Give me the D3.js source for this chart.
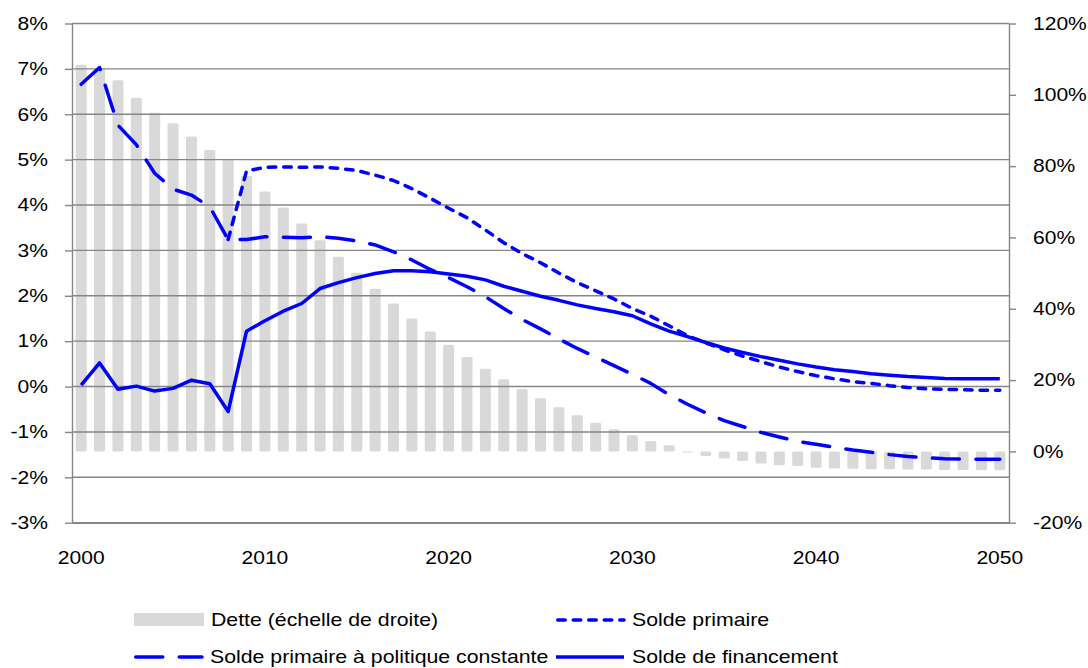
<!DOCTYPE html>
<html lang="fr">
<head>
  <meta charset="UTF-8" />
  <title>Solde et dette</title>
  <script src="https://d3js.org/d3.v7.min.js"></script>
  <style>
    body { margin: 0; padding: 0; background: #fff; }
    svg { display: block; font-family: "Liberation Sans", Arial, sans-serif; }
  </style>
</head>
<body>
  <svg id="chart" width="1088" height="668"></svg>
  <script>
    // years 2000..2050, one bar / point per year
    const years = d3.range(2000, 2051);
    const xTickYears = [2000, 2010, 2020, 2030, 2040, 2050];
    const leftTicks = [8, 7, 6, 5, 4, 3, 2, 1, 0, -1, -2, -3];
    const rightTicks = [120, 100, 80, 60, 40, 20, 0, -20];

    // Dette (échelle de droite), % du PIB
    const dette = [108.4, 107.5, 104.1, 99.2, 95.0, 92.0, 88.3, 84.5, 81.8, 77.2,
      72.9, 68.4, 63.9, 59.2, 54.6, 50.1, 45.6, 41.5, 37.3, 33.6,
      29.9, 26.5, 23.2, 20.2, 17.5, 14.9, 12.4, 10.1, 8.0, 6.2,
      4.5, 2.9, 1.7, -0.3, -1.3, -2.0, -2.7, -3.4, -3.9, -4.1,
      -4.6, -4.8, -4.9, -5.0, -5.0, -5.1, -5.1, -5.2, -5.2, -5.3, -5.3];

    // starts in 2008, before that it is the same as the constant-policy series
    const soldePrimaire = [null, null, null, null, null, null, null, null, 3.24, 4.75,
      4.83, 4.84, 4.83, 4.84, 4.81, 4.76, 4.66, 4.54, 4.36, 4.15,
      3.93, 3.72, 3.45, 3.17, 2.93, 2.73, 2.50, 2.29, 2.11, 1.93,
      1.72, 1.55, 1.34, 1.12, 0.96, 0.81, 0.67, 0.55, 0.43, 0.33,
      0.24, 0.17, 0.11, 0.07, 0.02, -0.02, -0.05, -0.06, -0.07, -0.08, -0.08];

    const soldeConstant = [6.66, 7.03, 5.76, 5.33, 4.70, 4.35, 4.22, 3.96, 3.24, 3.24,
      3.30, 3.29, 3.28, 3.30, 3.27, 3.21, 3.12, 2.97, 2.79, 2.58,
      2.40, 2.20, 1.98, 1.72, 1.48, 1.27, 1.05, 0.84, 0.65, 0.46,
      0.27, 0.07, -0.18, -0.39, -0.58, -0.75, -0.88, -1.01, -1.11, -1.21,
      -1.27, -1.34, -1.40, -1.45, -1.50, -1.54, -1.57, -1.59, -1.60, -1.60, -1.60];

    const soldeFinancement = [0.03, 0.52, -0.06, 0.01, -0.10, -0.04, 0.14, 0.06, -0.55, 1.22,
      1.45, 1.66, 1.83, 2.16, 2.29, 2.40, 2.49, 2.55, 2.55, 2.53,
      2.48, 2.43, 2.35, 2.21, 2.10, 1.99, 1.90, 1.80, 1.72, 1.65,
      1.56, 1.38, 1.22, 1.10, 0.97, 0.85, 0.75, 0.66, 0.58, 0.50,
      0.43, 0.37, 0.33, 0.28, 0.25, 0.22, 0.20, 0.18, 0.17, 0.17, 0.17];

    const labels = ["Dette (échelle de droite)", "Solde primaire",
      "Solde primaire à politique constante", "Solde de financement"];

    const blue = "#0000ff", barColor = "#d9d9d9", gridColor = "#868686";
    const shortDash = "7.5,8", longDash = "27,16.5";
    const sx = 1.17; // text in the picture is a bit wider than tall

    const svg = d3.select("#chart");
    const plotLeft = 72, plotRight = 1009, plotTop = 23.5, plotBottom = 522.7;

    const x = d3.scaleBand().domain(years).range([plotLeft, plotRight]);
    const cx = d => x(d) + x.bandwidth() / 2;
    const yL = d3.scaleLinear().domain([-3, 8]).range([plotBottom, plotTop]);
    const yR = d3.scaleLinear().domain([-20, 120]).range([plotBottom, plotTop]);

    // bars
    const barW = x.step() * 0.6;
    svg.append("g").selectAll("rect").data(years).join("rect")
      .attr("x", d => cx(d) - barW / 2)
      .attr("y", (d, i) => Math.min(yR(dette[i]), yR(0)))
      .attr("width", barW)
      .attr("height", (d, i) => Math.abs(yR(dette[i]) - yR(0)))
      .attr("rx", 1.5)
      .attr("fill", barColor);

    // gridlines
    svg.append("g").selectAll("line").data(leftTicks).join("line")
      .attr("x1", plotLeft).attr("x2", plotRight)
      .attr("y1", d => yL(d)).attr("y2", d => yL(d))
      .attr("stroke", gridColor).attr("stroke-width", 1.4);

    function styleAxis(g) {
      g.select(".domain").attr("stroke", gridColor).attr("stroke-width", 1.4);
      g.selectAll(".tick line").attr("stroke", gridColor).attr("stroke-width", 1.4);
      g.selectAll("text").attr("fill", "#000").attr("font-size", 18)
        .attr("font-family", '"Liberation Sans", Arial, sans-serif');
    }

    const axL = svg.append("g").attr("transform", `translate(${plotLeft},0)`)
      .call(d3.axisLeft(yL).tickValues(leftTicks).tickFormat(d => d + "%").tickSize(7).tickSizeOuter(0))
      .call(styleAxis);
    axL.selectAll("text").attr("x", -24 / sx).attr("transform", `scale(${sx},1)`);

    const axR = svg.append("g").attr("transform", `translate(${plotRight},0)`)
      .call(d3.axisRight(yR).tickValues(rightTicks).tickFormat(d => d + "%").tickSize(7).tickSizeOuter(0))
      .call(styleAxis);
    axR.selectAll("text").attr("x", 24 / sx).attr("transform", `scale(${sx},1)`);

    const axB = svg.append("g").attr("transform", `translate(0,${plotBottom})`)
      .call(d3.axisBottom(x).tickValues(xTickYears).tickSize(0).tickSizeOuter(0))
      .call(styleAxis);
    axB.selectAll("text").attr("y", 29).attr("dy", "0.71em").attr("transform", `scale(${sx},1)`);

    // lines
    const line = d3.line()
      .defined(d => d !== null)
      .x((d, i) => cx(years[i]))
      .y(d => yL(d));
    const series = [
      { values: soldePrimaire, dash: shortDash },
      { values: soldeConstant, dash: longDash },
      { values: soldeFinancement, dash: null }
    ];
    series.forEach(s => {
      svg.append("path").datum(s.values)
        .attr("d", line)
        .attr("fill", "none")
        .attr("stroke", blue)
        .attr("stroke-width", 3.5)
        .attr("stroke-linecap", s.dash ? "round" : "butt")
        .attr("stroke-linejoin", "round")
        .attr("stroke-dasharray", s.dash);
    });

    // legend
    const leg = svg.append("g");
    const items = [
      { label: labels[0], kind: "bar", x: 134, y: 620 },
      { label: labels[1], kind: shortDash, x: 556, y: 620 },
      { label: labels[2], kind: longDash, x: 134, y: 657 },
      { label: labels[3], kind: "solid", x: 556, y: 657 }
    ];
    items.forEach(it => {
      if (it.kind === "bar") {
        leg.append("rect").attr("x", it.x).attr("y", it.y - 7).attr("width", 70).attr("height", 13)
          .attr("fill", barColor);
      } else {
        const dashed = it.kind !== "solid";
        leg.append("line")
          .attr("x1", it.x + (dashed ? 1.75 : 0)).attr("x2", it.x + 68)
          .attr("y1", it.y).attr("y2", it.y)
          .attr("stroke", blue).attr("stroke-width", 3.5)
          .attr("stroke-linecap", dashed ? "round" : "butt")
          .attr("stroke-dasharray", dashed ? it.kind : null);
      }
      leg.append("text")
        .attr("x", (it.x + (it.kind === "bar" ? 77 : 76)) / sx).attr("y", it.y)
        .attr("dy", "0.35em")
        .attr("transform", `scale(${sx},1)`)
        .attr("font-size", 18.2)
        .text(it.label);
    });
  </script>
</body>
</html>
